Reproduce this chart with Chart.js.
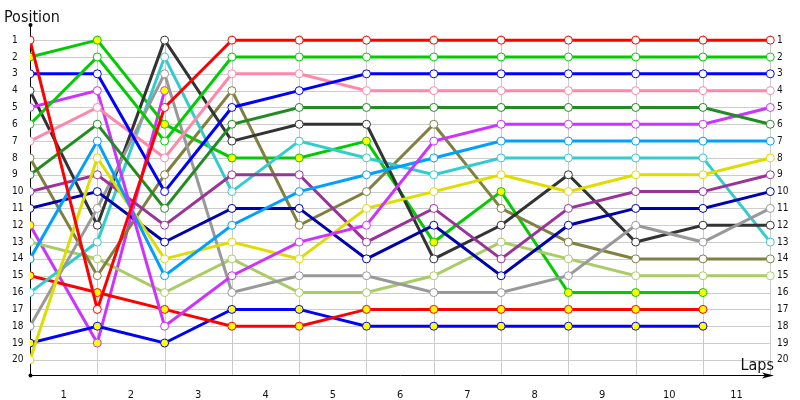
<!DOCTYPE html>
<html>
<head>
<meta charset="utf-8">
<script src="https://cdn.jsdelivr.net/npm/chart.js@4/dist/chart.umd.min.js"></script>
<style>
  html, body { margin: 0; padding: 0; background: #fff; }
  #wrap { width: 800px; height: 400px; }
</style>
</head>
<body>
<div id="wrap"><canvas id="LapChart"></canvas></div>
<script>
// laps 0..11, position per lap (null = no longer running)
var laps = [0, 1, 2, 3, 4, 5, 6, 7, 8, 9, 10, 11];
var positions = [1, 2, 3, 4, 5, 6, 7, 8, 9, 10, 11, 12, 13, 14, 15, 16, 17, 18, 19, 20];
var lapLabels = ["1", "2", "3", "4", "5", "6", "7", "8", "9", "10", "11"];

var redA       = [1, 17, 5, 1, 1, 1, 1, 1, 1, 1, 1, 1];
var redB       = [15, 16, 17, 18, 18, 17, 17, 17, 17, 17, 17, null];
var greenA     = [6, 2, 7, 2, 2, 2, 2, 2, 2, 2, 2, 2];
var greenB     = [2, 1, 6, 8, 8, 7, 13, 10, 16, 16, 16, null];
var blueA      = [3, 3, 10, 5, 4, 3, 3, 3, 3, 3, 3, 3];
var blueB      = [19, 18, 19, 17, 17, 18, 18, 18, 18, 18, 18, null];
var magentaA   = [5, 4, 18, 15, 13, 12, 7, 6, 6, 6, 6, 5];
var magentaB   = [12, 19, 4, null, null, null, null, null, null, null, null, null];
var pink       = [7, 5, 8, 3, 3, 4, 4, 4, 4, 4, 4, 4];
var darkGray   = [4, 12, 1, 7, 6, 6, 14, 12, 9, 13, 12, 12];
var olive      = [8, 15, 9, 4, 12, 10, 6, 11, 13, 14, 14, 14];
var darkGreen  = [9, 6, 11, 6, 5, 5, 5, 5, 5, 5, 5, 6];
var purple     = [10, 9, 12, 9, 9, 13, 11, 14, 11, 10, 10, 9];
var darkBlue   = [11, 10, 13, 11, 11, 14, 12, 15, 12, 11, 11, 10];
var lightGreen = [13, 14, 16, 14, 16, 16, 15, 13, 14, 15, 15, 15];
var lightBlue  = [14, 7, 15, 12, 10, 9, 8, 7, 7, 7, 7, 7];
var cyan       = [16, 13, 2, 10, 7, 8, 9, 8, 8, 8, 8, 13];
var gray       = [18, 11, 3, 16, 15, 15, 16, 16, 15, 12, 13, 11];
var yellow     = [20, 8, 14, 13, 14, 11, 10, 9, 10, 9, 9, 8];

var drivers = [
    { data: redA,       color: '#ff0000', second: false },
    { data: greenA,     color: '#00cc00', second: false },
    { data: blueA,      color: '#0000ff', second: false },
    { data: pink,       color: '#ff88aa', second: false },
    { data: darkGreen,  color: '#228b22', second: false },
    { data: magentaA,   color: '#cc33ff', second: false },
    { data: lightBlue,  color: '#00a0ff', second: false },
    { data: yellow,     color: '#dddd00', second: false },
    { data: purple,     color: '#993399', second: false },
    { data: darkBlue,   color: '#0000b0', second: false },
    { data: gray,       color: '#999999', second: false },
    { data: darkGray,   color: '#333333', second: false },
    { data: cyan,       color: '#33cccc', second: false },
    { data: olive,      color: '#808040', second: false },
    { data: lightGreen, color: '#aacc66', second: false },
    { data: greenB,     color: '#00cc00', second: true },
    { data: redB,       color: '#ff0000', second: true },
    { data: blueB,      color: '#0000ff', second: true },
    { data: magentaB,   color: '#cc33ff', second: true }
];

var tickFont = "'DejaVu Sans Condensed', 'DejaVu Sans', sans-serif";

function buildDatasets() {
    return drivers.map(function (d) {
        return {
            data: laps.map(function (lap, i) { return { x: lap, y: d.data[i] }; }),
            borderColor: d.color,
            backgroundColor: d.color,
            borderWidth: 3,
            pointRadius: 4,
            pointHoverRadius: 4,
            pointBorderWidth: 1,
            pointBorderColor: d.color,
            pointBackgroundColor: d.second ? '#ffff00' : '#ffffff',
            tension: 0,
            spanGaps: false
        };
    });
}

// grid, axes with arrow and the two titles
var framePlugin = {
    id: 'frame',
    beforeDatasetsDraw: function (chart) {
        var ctx = chart.ctx, xs = chart.scales.x, ys = chart.scales.y;
        var x0 = xs.getPixelForValue(0), x1 = xs.getPixelForValue(laps[laps.length - 1]);
        var top = ys.getPixelForValue(0.7), bottom = chart.chartArea.bottom;
        ctx.save();
        ctx.strokeStyle = '#cccccc';
        ctx.lineWidth = 1;
        positions.forEach(function (p) {
            var y = Math.round(ys.getPixelForValue(p)) + 0.5;
            ctx.beginPath(); ctx.moveTo(x0, y); ctx.lineTo(x1, y); ctx.stroke();
        });
        laps.forEach(function (l) {
            var x = Math.round(xs.getPixelForValue(l)) + 0.5;
            ctx.beginPath(); ctx.moveTo(x, top); ctx.lineTo(x, bottom); ctx.stroke();
        });
        // axes
        ctx.strokeStyle = '#000';
        ctx.fillStyle = '#000';
        var ax = Math.round(x0) + 0.5, ay = Math.round(bottom) + 0.5;
        var aTop = chart.chartArea.top, aRight = chart.chartArea.right - 3;
        ctx.beginPath(); ctx.moveTo(ax, aTop); ctx.lineTo(ax, ay); ctx.lineTo(aRight - 4, ay); ctx.stroke();
        ctx.beginPath(); ctx.arc(ax, aTop, 2, 0, Math.PI * 2); ctx.fill();
        ctx.beginPath(); ctx.arc(ax, ay, 2, 0, Math.PI * 2); ctx.fill();
        ctx.beginPath();
        ctx.moveTo(aRight, ay); ctx.lineTo(aRight - 12, ay - 3); ctx.lineTo(aRight - 9, ay); ctx.lineTo(aRight - 12, ay + 3);
        ctx.closePath(); ctx.fill();
        // titles
        ctx.font = "16px " + tickFont;
        ctx.fillStyle = '#111';
        ctx.textBaseline = 'alphabetic';
        ctx.textAlign = 'left';
        ctx.fillText('Position', 4, 22);
        ctx.textAlign = 'right';
        ctx.fillText('Laps', 774, 370);
        ctx.restore();
    }
};

window.onload = function () {
    var ctx = document.getElementById('LapChart').getContext('2d');
    new Chart(ctx, {
        type: 'line',
        data: { datasets: buildDatasets() },
        plugins: [framePlugin],
        options: {
            responsive: true,
            maintainAspectRatio: false,
            animation: false,
            events: [],
            layout: { padding: { left: 12, right: 0, top: 25, bottom: 0 } },
            plugins: { legend: { display: false }, tooltip: { enabled: false } },
            scales: {
                x: {
                    type: 'linear',
                    min: 0,
                    max: 11.1,
                    grid: { display: false },
                    border: { display: false },
                    afterBuildTicks: function (s) {
                        s.ticks = lapLabels.map(function (l, i) { return { value: i + 0.5 }; });
                    },
                    afterFit: function (s) { s.height = 25; },
                    ticks: {
                        autoSkip: false,
                        maxRotation: 0,
                        padding: 6,
                        color: '#111',
                        font: { family: tickFont, size: 11 },
                        callback: function (v) { return lapLabels[Math.floor(v)]; }
                    }
                },
                y: {
                    position: 'left',
                    reverse: true,
                    min: 0.1,
                    max: 20.9,
                    grid: { display: false, drawTicks: false },
                    border: { display: false },
                    afterBuildTicks: function (s) {
                        s.ticks = positions.map(function (p) { return { value: p }; });
                    },
                    afterFit: function (s) { s.width = 18; },
                    ticks: {
                        crossAlign: 'far',
                        padding: 0,
                        color: '#111',
                        font: { family: tickFont, size: 10 }
                    }
                },
                y2: {
                    position: 'right',
                    reverse: true,
                    min: 0.1,
                    max: 20.9,
                    grid: { display: false, drawTicks: false },
                    border: { display: false },
                    afterBuildTicks: function (s) {
                        s.ticks = positions.map(function (p) { return { value: p }; });
                    },
                    afterFit: function (s) { s.width = 23; },
                    ticks: {
                        crossAlign: 'near',
                        padding: 0,
                        color: '#111',
                        font: { family: tickFont, size: 10 }
                    }
                }
            }
        }
    });
};
</script>
</body>
</html>
